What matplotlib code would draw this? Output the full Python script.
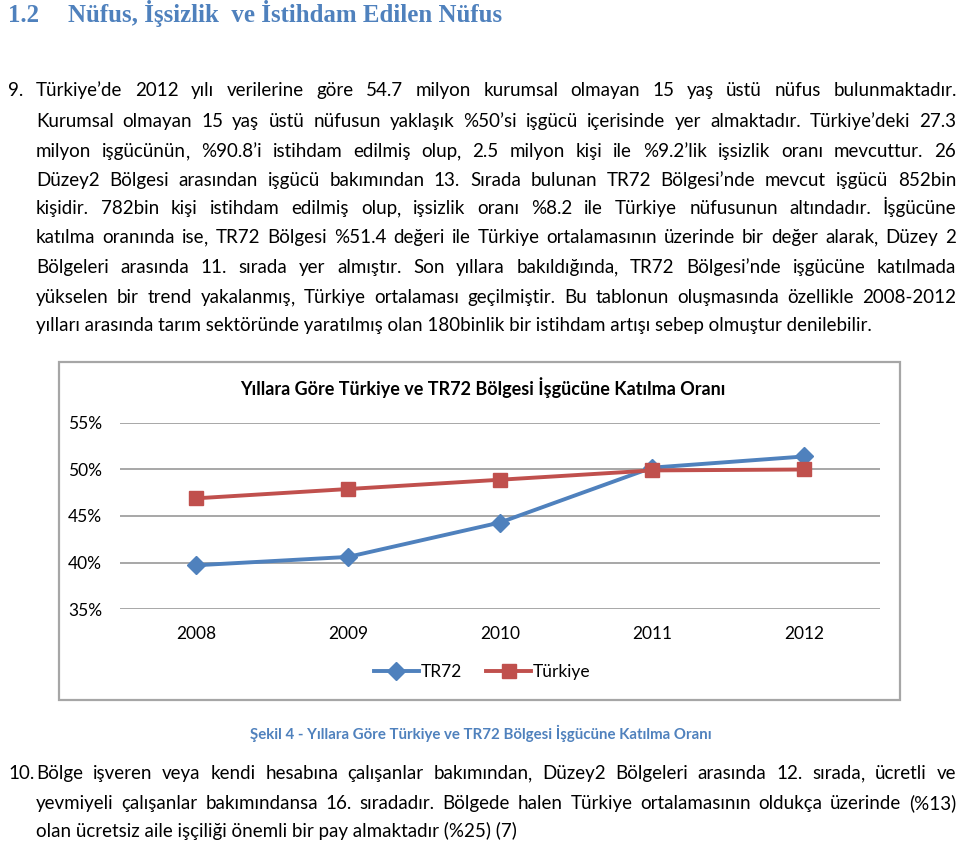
import matplotlib
matplotlib.use("Agg")
import matplotlib.pyplot as plt
from matplotlib.patches import Rectangle
from matplotlib.ticker import FuncFormatter
from matplotlib.font_manager import FontProperties
from matplotlib.textpath import text_to_path

W, H = 960, 841

# chart data (percent)
years = ["2008", "2009", "2010", "2011", "2012"]
tr72 = [39.7, 40.6, 44.3, 50.2, 51.4]
turkiye = [46.9, 47.9, 48.9, 49.9, 50.0]
y_ticks = [35, 40, 45, 50, 55]

heading_no = "1.2"
heading = "Nüfus, İşsizlik  ve İstihdam Edilen Nüfus"
chart_title = "Yıllara Göre Türkiye ve TR72 Bölgesi İşgücüne Katılma Oranı"
caption = "Şekil 4 - Yıllara Göre Türkiye ve TR72 Bölgesi İşgücüne Katılma Oranı"

para9 = [
    "Türkiye’de 2012 yılı verilerine göre 54.7 milyon kurumsal olmayan 15 yaş üstü nüfus bulunmaktadır.",
    "Kurumsal olmayan 15 yaş üstü nüfusun yaklaşık %50’si işgücü içerisinde yer almaktadır. Türkiye’deki 27.3",
    "milyon işgücünün, %90.8’i istihdam edilmiş olup, 2.5 milyon kişi ile %9.2’lik işsizlik oranı mevcuttur. 26",
    "Düzey2 Bölgesi arasından işgücü bakımından 13. Sırada bulunan TR72 Bölgesi’nde mevcut işgücü 852bin",
    "kişidir. 782bin kişi istihdam edilmiş olup, işsizlik oranı %8.2 ile Türkiye nüfusunun altındadır. İşgücüne",
    "katılma oranında ise, TR72 Bölgesi %51.4 değeri ile Türkiye ortalamasının üzerinde bir değer alarak, Düzey 2",
    "Bölgeleri arasında 11. sırada yer almıştır. Son yıllara bakıldığında, TR72 Bölgesi’nde işgücüne katılmada",
    "yükselen bir trend yakalanmış, Türkiye ortalaması geçilmiştir. Bu tablonun oluşmasında özellikle 2008-2012",
    "yılları arasında tarım sektöründe yaratılmış olan 180binlik bir istihdam artışı sebep olmuştur denilebilir.",
]
para10 = [
    "Bölge işveren veya kendi hesabına çalışanlar bakımından, Düzey2 Bölgeleri arasında 12. sırada, ücretli ve",
    "yevmiyeli çalışanlar bakımındansa 16. sıradadır. Bölgede halen Türkiye ortalamasının oldukça üzerinde (%13)",
    "olan ücretsiz aile işçiliği önemli bir pay almaktadır (%25) (7)",
]

BODY = "Lato"
SERIF = "Liberation Serif"
BLUE = "#4F81BD"
RED = "#C0504D"

fig = plt.figure(figsize=(W / 100, H / 100), dpi=100)
fig.patch.set_facecolor("white")


def fx(x):
    return x / W


def fy(y):
    return 1 - y / H


def text_width(s, size, family, weight="normal"):
    # width in pixels (100 dpi), measured without touching the renderer
    prop = FontProperties(family=family, size=size, weight=weight)
    w, h, d = text_to_path.get_text_width_height_descent(s, prop, ismath=False)
    return w * 100 / 72


def fit_size(s, width, family, weight="normal"):
    return round(10 * width / text_width(s, 10, family, weight), 1)


# one body size so that the widest justified line still has word gaps
all_lines = para9[:-1] + para10[:-1]
widest = max(text_width(l, 13, BODY) for l in all_lines)
BODY_SIZE = round(min(13.5, 13 * 905 / widest), 1)


def put_word(w, x, y):
    # trailing commas drawn on their own
    if w.endswith(",") and len(w) > 1:
        core = w[:-1]
        fig.text(fx(x), fy(y), core, family=BODY, fontsize=BODY_SIZE,
                 va="baseline", color="black")
        fig.text(fx(x + text_width(core, BODY_SIZE, BODY)), fy(y), ",",
                 family=BODY, fontsize=BODY_SIZE, va="baseline", color="black")
    else:
        fig.text(fx(x), fy(y), w, family=BODY, fontsize=BODY_SIZE,
                 va="baseline", color="black")


def justify(line, y, x0, x1, last=False):
    if last:
        fig.text(fx(x0), fy(y), line, family=BODY, fontsize=BODY_SIZE,
                 va="baseline", color="black")
        return
    words = line.split(" ")
    widths = [text_width(w, BODY_SIZE, BODY) for w in words]
    gap = (x1 - x0 - sum(widths)) / (len(words) - 1)
    x = x0
    for w, wd in zip(words, widths):
        put_word(w, x, y)
        x += wd + gap


# heading
hsize = fit_size(heading, 433, SERIF, "bold")
fig.text(fx(8), fy(22), heading_no, family=SERIF, fontsize=hsize,
         fontweight="bold", color=BLUE, va="baseline")
fig.text(fx(68), fy(22), heading, family=SERIF, fontsize=hsize,
         fontweight="bold", color=BLUE, va="baseline")

# paragraph 9
base9 = [96, 127, 157, 186, 214, 243, 273, 303, 331]
fig.text(fx(8), fy(base9[0]), "9.", family=BODY, fontsize=BODY_SIZE, va="baseline")
for i, (line, yb) in enumerate(zip(para9, base9)):
    justify(line, yb, 36, 956, last=(i == len(para9) - 1))

# chart frame
fig.patches.append(Rectangle((fx(59), fy(700)), fx(900) - fx(59), fy(362) - fy(700),
                             transform=fig.transFigure, fill=False,
                             edgecolor="#A6A6A6", linewidth=1.6))

ax = fig.add_axes([fx(120), fy(609), fx(880) - fx(120), fy(423) - fy(609)])
x = list(range(len(years)))
ax.plot(x, tr72, color=BLUE, lw=2.8, marker="D", ms=9, label="TR72", zorder=3)
ax.plot(x, turkiye, color=RED, lw=2.8, marker="s", ms=10, label="Türkiye", zorder=3)
ax.set_xlim(-0.5, len(years) - 0.5)
ax.set_ylim(35, 55)
ax.set_yticks(y_ticks)
ax.yaxis.set_major_formatter(FuncFormatter(lambda v, p: "%d%%" % v))
ax.set_xticks(x)
ax.set_xticklabels(years)
ax.grid(axis="y", color="#A0A0A0", lw=1.3)
ax.set_axisbelow(True)
for s in ax.spines.values():
    s.set_visible(False)
ax.tick_params(length=0, labelsize=12.5)
ax.tick_params(axis="y", pad=13)
ax.tick_params(axis="x", pad=12)
for lab in ax.get_xticklabels() + ax.get_yticklabels():
    lab.set_family(BODY)
ax.set_facecolor("none")

tsize = fit_size(chart_title, 487, BODY, "bold")
fig.text(fx(483), fy(388), chart_title, family=BODY, fontsize=tsize,
         fontweight="bold", ha="center", va="center")

ax.legend(loc="center", bbox_to_anchor=(fx(482), fy(672)),
          bbox_transform=fig.transFigure, ncol=2, frameon=False,
          prop={"family": BODY, "size": 12.5}, handlelength=2.6,
          handletextpad=0.1, columnspacing=1.4)

# caption
csize = fit_size(caption, 462, BODY, "bold")
fig.text(fx(481), fy(733), caption, family=BODY, fontsize=csize,
         fontweight="bold", color=BLUE, ha="center", va="center")

# paragraph 10
base10 = [779, 809, 837]
fig.text(fx(8), fy(base10[0]), "10.", family=BODY, fontsize=BODY_SIZE, va="baseline")
for i, (line, yb) in enumerate(zip(para10, base10)):
    justify(line, yb, 36, 956, last=(i == len(para10) - 1))

fig.savefig("out.png", dpi=100, facecolor="white")
